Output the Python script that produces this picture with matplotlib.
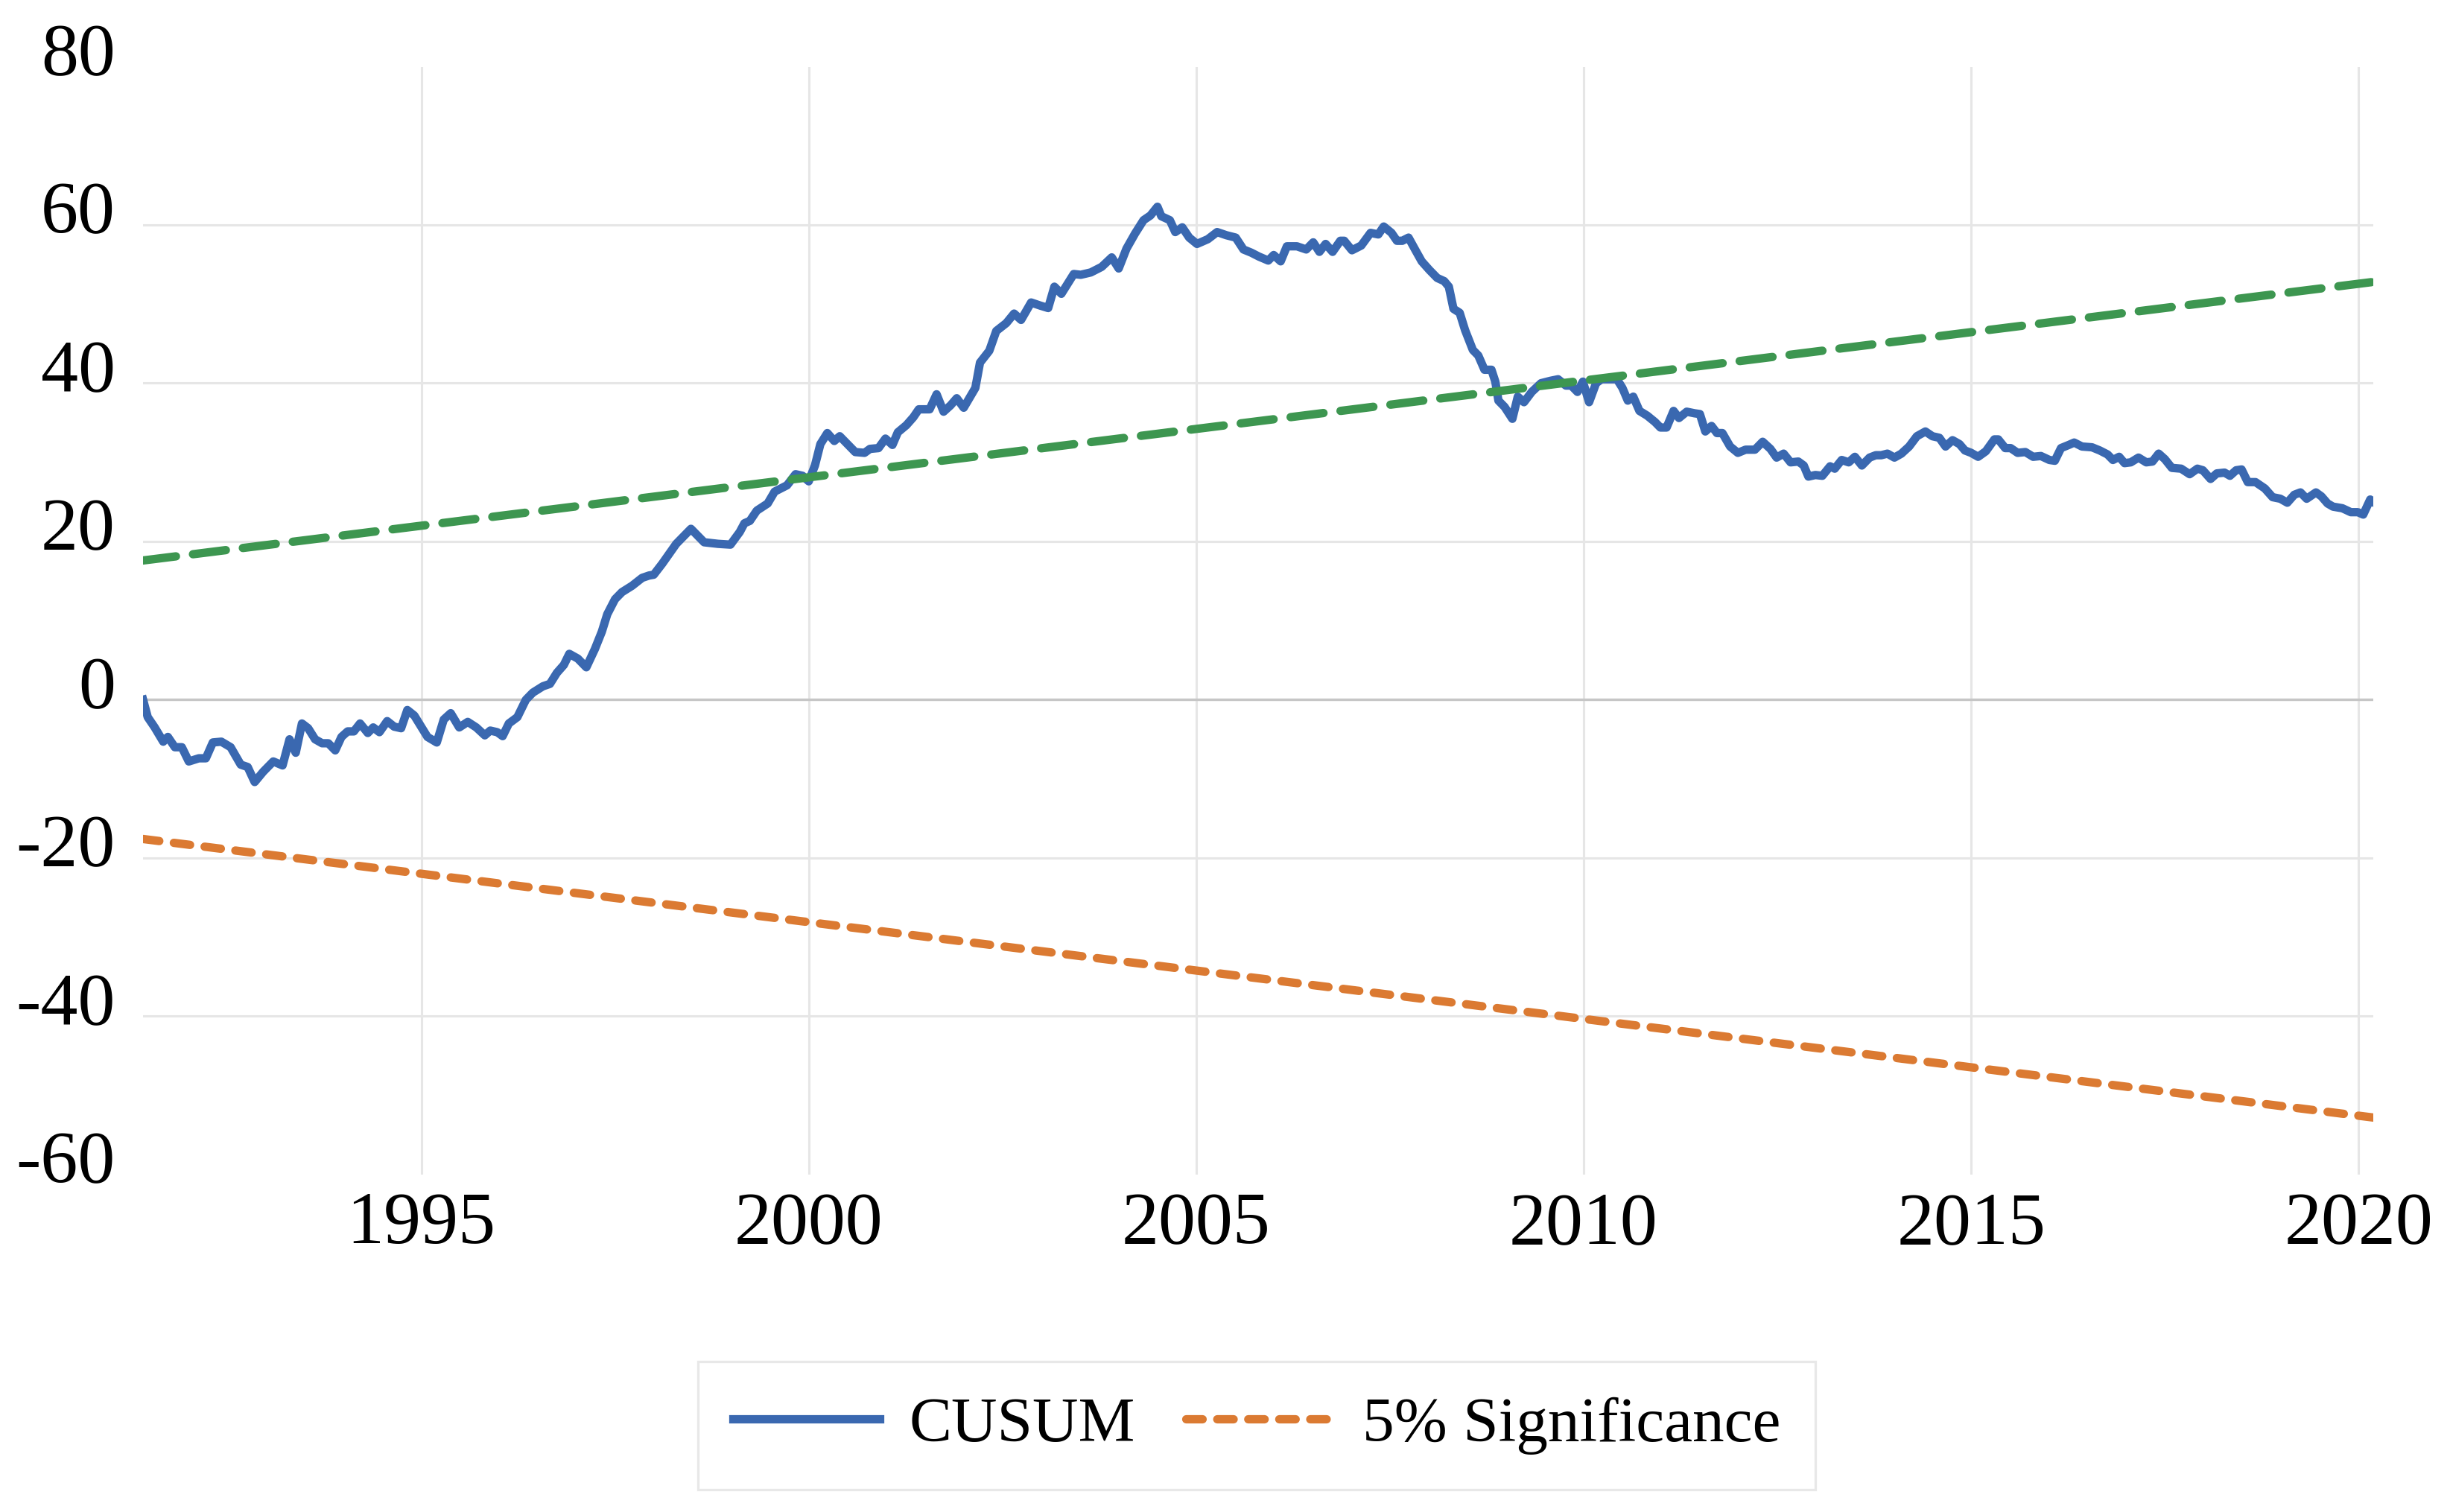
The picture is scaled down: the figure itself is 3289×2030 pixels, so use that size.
import matplotlib
matplotlib.use('Agg')
import matplotlib.pyplot as plt
from matplotlib.transforms import ScaledTranslation

plt.rcParams['font.family'] = ['Liberation Serif', 'DejaVu Serif']

# CUSUM path (decimal years, value)
cusum_t = [1991.41, 1991.47, 1991.56, 1991.67, 1991.73, 1991.82, 1991.91, 1992.0, 1992.13, 1992.22,
           1992.31, 1992.42, 1992.54, 1992.67, 1992.76, 1992.85, 1992.96, 1993.09, 1993.21, 1993.30,
           1993.38, 1993.46, 1993.54, 1993.63, 1993.72, 1993.80, 1993.89, 1993.97, 1994.05, 1994.13,
           1994.21, 1994.31, 1994.38, 1994.46, 1994.56, 1994.65, 1994.74, 1994.82, 1994.91, 1995.08,
           1995.20, 1995.29, 1995.38, 1995.49, 1995.60, 1995.71, 1995.82, 1995.89, 1995.98, 1996.05,
           1996.13, 1996.24, 1996.35, 1996.44, 1996.57, 1996.66, 1996.75, 1996.84, 1996.91, 1997.02,
           1997.13, 1997.24, 1997.33, 1997.40, 1997.50, 1997.59, 1997.72, 1997.85, 1997.94, 1998.00,
           1998.11, 1998.29, 1998.48, 1998.65, 1998.83, 1998.99, 1999.11, 1999.17, 1999.24, 1999.33,
           1999.47, 1999.56, 1999.72, 1999.83, 1999.92, 2000.00, 2000.08, 2000.15, 2000.24, 2000.33,
           2000.40, 2000.51, 2000.60, 2000.72, 2000.79, 2000.90, 2000.99, 2001.08, 2001.15, 2001.26,
           2001.35, 2001.42, 2001.56, 2001.65, 2001.74, 2001.83, 2001.91, 2002.00, 2002.15, 2002.21,
           2002.33, 2002.42, 2002.55, 2002.65, 2002.74, 2002.87, 2002.99, 2003.09, 2003.17, 2003.26,
           2003.42, 2003.51, 2003.64, 2003.78, 2003.91, 2004.00, 2004.10, 2004.21, 2004.32, 2004.41,
           2004.50, 2004.55, 2004.66, 2004.73, 2004.82, 2004.91, 2005.01, 2005.15, 2005.27, 2005.39,
           2005.51, 2005.61, 2005.71, 2005.81, 2005.93, 2006.00, 2006.09, 2006.17, 2006.30, 2006.42,
           2006.51, 2006.59, 2006.67, 2006.76, 2006.86, 2006.91, 2007.01, 2007.13, 2007.25, 2007.35,
           2007.42, 2007.52, 2007.59, 2007.66, 2007.74, 2007.83, 2007.91, 2008.01, 2008.11, 2008.20,
           2008.26, 2008.32, 2008.40, 2008.47, 2008.57, 2008.64, 2008.72, 2008.81, 2008.86, 2008.90,
           2008.98, 2009.08, 2009.15, 2009.23, 2009.33, 2009.45, 2009.57, 2009.67, 2009.77, 2009.84,
           2009.92, 2009.99, 2010.07, 2010.16, 2010.23, 2010.33, 2010.43, 2010.50, 2010.57, 2010.64,
           2010.72, 2010.82, 2010.92, 2010.99, 2011.07, 2011.16, 2011.23, 2011.33, 2011.43, 2011.50,
           2011.57, 2011.65, 2011.72, 2011.79, 2011.89, 2011.99, 2012.09, 2012.21, 2012.31, 2012.41,
           2012.49, 2012.58, 2012.67, 2012.77, 2012.84, 2012.90, 2012.99, 2013.08, 2013.18, 2013.24,
           2013.33, 2013.42, 2013.50, 2013.59, 2013.69, 2013.77, 2013.84, 2013.92, 2014.01, 2014.10,
           2014.20, 2014.30, 2014.41, 2014.50, 2014.59, 2014.67, 2014.76, 2014.85, 2014.92, 2015.00,
           2015.09, 2015.19, 2015.30, 2015.35, 2015.44, 2015.51, 2015.60, 2015.70, 2015.80, 2015.90,
           2016.01, 2016.08, 2016.16, 2016.26, 2016.33, 2016.43, 2016.56, 2016.66, 2016.76, 2016.83,
           2016.91, 2016.98, 2017.06, 2017.16, 2017.26, 2017.34, 2017.42, 2017.50, 2017.59, 2017.71,
           2017.82, 2017.92, 2017.99, 2018.09, 2018.17, 2018.27, 2018.34, 2018.42, 2018.49, 2018.57,
           2018.67, 2018.79, 2018.89, 2018.99, 2019.08, 2019.17, 2019.25, 2019.33, 2019.45, 2019.52,
           2019.60, 2019.67, 2019.79, 2019.90, 2019.99, 2020.06, 2020.15, 2020.19]
cusum_v = [0.0, -2.2, -3.5, -5.3, -4.7, -6.0, -6.0, -7.8, -7.4, -7.4,
           -5.4, -5.3, -6.0, -8.2, -8.5, -10.4, -9.1, -7.8, -8.3, -5.0,
           -6.7, -3.0, -3.6, -5.0, -5.5, -5.5, -6.4, -4.7, -4.0, -4.0,
           -3.0, -4.2, -3.5, -4.1, -2.7, -3.4, -3.6, -1.3, -2.0, -4.7,
           -5.4, -2.5, -1.7, -3.5, -2.8, -3.5, -4.5, -3.9, -4.1, -4.6,
           -3.0, -2.2, 0.0, 0.9, 1.7, 2.0, 3.4, 4.4, 5.8, 5.2,
           4.1, 6.4, 8.6, 10.8, 12.7, 13.6, 14.4, 15.4, 15.7, 15.8,
           17.2, 19.7, 21.6, 19.9, 19.7, 19.6, 21.2, 22.3, 22.6, 23.9,
           24.8, 26.3, 27.1, 28.5, 28.3, 27.6, 29.6, 32.3, 33.7, 32.7,
           33.3, 32.2, 31.3, 31.2, 31.7, 31.8, 33.0, 32.2, 33.8, 34.7,
           35.7, 36.7, 36.7, 38.6, 36.4, 37.2, 38.1, 36.9, 39.4, 42.6,
           44.1, 46.6, 47.6, 48.8, 48.0, 50.2, 49.8, 49.5, 52.2, 51.3,
           53.8, 53.7, 54.0, 54.7, 55.9, 54.5, 57.0, 58.9, 60.6, 61.2,
           62.3, 61.1, 60.6, 59.1, 59.7, 58.4, 57.6, 58.2, 59.1, 58.7,
           58.4, 56.9, 56.5, 56.0, 55.5, 56.2, 55.4, 57.3, 57.3, 56.9,
           57.8, 56.6, 57.6, 56.6, 58.0, 58.0, 56.8, 57.4, 59.0, 58.8,
           59.8, 59.0, 58.0, 58.0, 58.4, 56.8, 55.4, 54.3, 53.3, 52.9,
           52.2, 49.4, 48.9, 46.7, 44.2, 43.5, 41.7, 41.7, 40.2, 37.8,
           37.0, 35.5, 38.3, 37.6, 38.9, 40.0, 40.3, 40.5, 39.7, 39.7,
           38.9, 40.2, 37.6, 40.0, 40.5, 40.5, 40.5, 39.4, 37.8, 38.3,
           36.5, 35.9, 35.1, 34.4, 34.4, 36.5, 35.6, 36.4, 36.2, 36.1,
           33.9, 34.6, 33.7, 33.7, 32.0, 31.2, 31.6, 31.6, 32.6, 31.7,
           30.6, 31.1, 30.0, 30.1, 29.6, 28.2, 28.4, 28.3, 29.5, 29.2,
           30.3, 30.0, 30.7, 29.6, 30.6, 30.9, 30.9, 31.1, 30.6, 31.1,
           32.0, 33.3, 33.9, 33.3, 33.1, 32.0, 32.8, 32.3, 31.5, 31.2,
           30.7, 31.4, 32.9, 32.9, 31.8, 31.8, 31.2, 31.3, 30.7, 30.8,
           30.3, 30.2, 31.8, 32.2, 32.5, 32.0, 31.9, 31.5, 31.0, 30.3,
           30.7, 29.9, 30.0, 30.6, 30.0, 30.1, 31.1, 30.4, 29.3, 29.2,
           28.5, 29.2, 29.0, 27.9, 28.6, 28.7, 28.3, 29.0, 29.1, 27.5,
           27.5, 26.7, 25.6, 25.4, 24.9, 25.9, 26.2, 25.4, 26.2, 25.7,
           24.8, 24.4, 24.2, 23.7, 23.7, 23.4, 25.3, 25.0]

# 5% significance bounds (straight lines between the two ends)
bound_t = [1991.41, 2020.19]
upper_v = [17.6, 52.8]
lower_v = [-17.6, -52.8]

x_ticks = [1995, 2000, 2005, 2010, 2015, 2020]
y_ticks = [-60, -40, -20, 0, 20, 40, 60, 80]

fig = plt.figure(figsize=(3289 / 300, 2030 / 300), dpi=300)
ax = fig.add_axes([0.0584, 0.2232, 0.9103, 0.7327])

ax.plot(cusum_t, cusum_v, color='#3a68b0', lw=2.7, label='CUSUM', zorder=3,
        solid_joinstyle='round')
ax.plot(bound_t, lower_v, color='#db7a32', lw=2.7, dashes=(1.95, 1.75),
        dash_capstyle='round', label='5% Significance', zorder=4)
ax.plot(bound_t, upper_v, color='#3d9650', lw=2.7, dashes=(3.95, 2.05),
        dash_capstyle='round', zorder=5)

ax.set_xlim(1991.41, 2020.19)
ax.set_ylim(-60, 80)
ax.set_xticks(x_ticks)
ax.set_xticklabels([str(v) for v in x_ticks])
ax.set_yticks(y_ticks)
ax.set_yticklabels([str(v) for v in y_ticks])

ax.grid(True, color='#e6e6e6', lw=0.75)
ax.set_axisbelow(True)
# no gridlines at the outer limits, darker line at zero
for val, gl in zip(y_ticks, ax.yaxis.get_gridlines()):
    if val in (-60, 80):
        gl.set_visible(False)
ax.axhline(0, color='#c6c6c6', lw=0.8, zorder=1)

for s in ax.spines.values():
    s.set_visible(False)
ax.tick_params(length=0, labelsize=24, colors='black')
ax.tick_params(axis='y', pad=8.9)
ax.tick_params(axis='x', pad=5.5)
shift = ScaledTranslation(0, 24 / 300, fig.dpi_scale_trans)
for lbl in ax.get_yticklabels():
    lbl.set_transform(lbl.get_transform() + shift)

leg = fig.legend(loc='center', bbox_to_anchor=(0.513, 0.057), ncol=2, fontsize=20.5,
                 frameon=True, fancybox=False, handlelength=2.3, handletextpad=0.47,
                 columnspacing=0.8, borderpad=0.55)
leg.get_frame().set_edgecolor('#e3e3e3')
leg.get_frame().set_linewidth(0.8)

fig.savefig('out.png', dpi=300)
